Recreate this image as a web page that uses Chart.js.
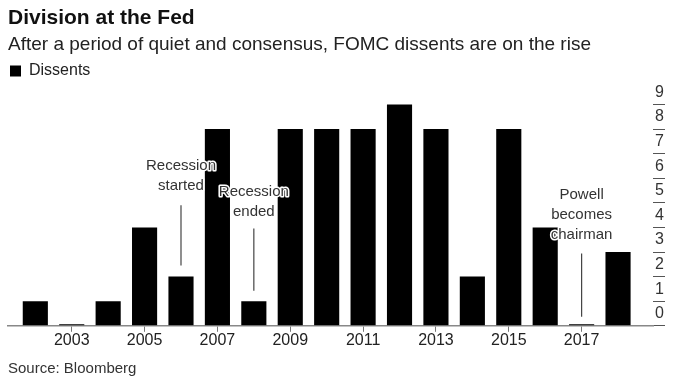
<!DOCTYPE html>
<html>
<head>
<meta charset="utf-8">
<script src="https://cdn.jsdelivr.net/npm/chart.js@4"></script>
<style>
  html, body { margin: 0; padding: 0; background: #fff; }
  #wrap { width: 680px; height: 384px; }
</style>
</head>
<body>
<div id="wrap"><canvas id="chart" width="680" height="384"></canvas></div>
<script>
// データ
const years = [2002, 2003, 2004, 2005, 2006, 2007, 2008, 2009, 2010, 2011, 2012, 2013, 2014, 2015, 2016, 2017, 2018];
const dissents = [1, 0, 1, 4, 2, 8, 1, 8, 8, 8, 9, 8, 2, 8, 4, 0, 3];
const xTickYears = [2003, 2005, 2007, 2009, 2011, 2013, 2015, 2017];
const yTickValues = [0, 1, 2, 3, 4, 5, 6, 7, 8, 9];

// 注釈 (年, テキスト, 文字の中心の値, 線の上端と下端の値)
const noteYears = [2006, 2008, 2017];
const noteTexts = [["Recession", "started"], ["Recession", "ended"], ["Powell", "becomes", "chairman"]];
const noteTextTop = [6.49, 5.43, 5.31];
const noteLineTop = [4.9, 3.96, 2.94];
const noteLineBottom = [2.45, 1.43, 0.37];

const FONT = "'Liberation Sans', Arial, sans-serif";

// 注釈を描くプラグイン
const notesPlugin = {
    id: 'notes',
    afterDatasetsDraw(chart) {
        const ctx = chart.ctx;
        const xs = chart.scales.x;
        const ys = chart.scales.y;
        ctx.save();
        for (let i = 0; i < noteYears.length; i++) {
            const x = xs.getPixelForValue(noteYears[i]);
            ctx.strokeStyle = '#444';
            ctx.lineWidth = 1.2;
            ctx.beginPath();
            ctx.moveTo(x, ys.getPixelForValue(noteLineTop[i]));
            ctx.lineTo(x, ys.getPixelForValue(noteLineBottom[i]));
            ctx.stroke();

            ctx.font = '15px ' + FONT;
            ctx.textAlign = 'center';
            ctx.textBaseline = 'middle';
            let y = ys.getPixelForValue(noteTextTop[i]);
            noteTexts[i].forEach(t => {
                ctx.lineWidth = 3;
                ctx.strokeStyle = '#fff';
                ctx.lineJoin = 'round';
                ctx.strokeText(t, x, y);
                ctx.fillStyle = '#333';
                ctx.fillText(t, x, y);
                y += 20;
            });
        }
        ctx.restore();
    }
};

new Chart(document.getElementById('chart'), {
    type: 'bar',
    data: {
        datasets: [{
            label: 'Dissents',
            data: years.map((yr, i) => ({ x: yr, y: dissents[i] })),
            backgroundColor: '#000',
            borderWidth: 0,
            barPercentage: 0.69,
            categoryPercentage: 1,
            minBarLength: 1.5
        }]
    },
    options: {
        responsive: false,
        animation: false,
        layout: { padding: { left: 8, right: 14, top: 2, bottom: 6 } },
        plugins: {
            title: {
                display: true,
                text: 'Division at the Fed',
                align: 'start',
                color: '#111',
                font: { family: FONT, size: 21, weight: 'bold' },
                padding: { top: 4, bottom: 2 }
            },
            subtitle: {
                display: true,
                text: 'After a period of quiet and consensus, FOMC dissents are on the rise',
                align: 'start',
                color: '#222',
                font: { family: FONT, size: 19 },
                padding: { top: 0, bottom: 5 }
            },
            legend: {
                display: true,
                align: 'start',
                labels: {
                    color: '#222',
                    font: { family: FONT, size: 16 },
                    boxWidth: 11,
                    boxHeight: 11,
                    padding: 2
                }
            },
            tooltip: { enabled: false }
        },
        scales: {
            x: {
                type: 'linear',
                min: 2001.25,
                max: 2018.96,
                offset: false,
                grid: { drawOnChartArea: false, drawTicks: true, tickLength: 6, color: '#777', offset: false },
                border: { display: true, color: '#888', width: 1.5 },
                afterBuildTicks: axis => { axis.ticks = xTickYears.map(v => ({ value: v })); },
                ticks: {
                    color: '#222',
                    font: { family: FONT, size: 16 },
                    padding: -1,
                    maxRotation: 0,
                    callback: v => String(v)
                },
                title: {
                    display: true,
                    text: 'Source: Bloomberg',
                    align: 'start',
                    color: '#333',
                    font: { family: FONT, size: 15 },
                    padding: { top: 11, bottom: 0 }
                }
            },
            y: {
                position: 'right',
                min: 0,
                max: 9.63,
                grid: { drawOnChartArea: false, drawTicks: true, tickLength: 12, color: '#555' },
                border: { display: false },
                afterBuildTicks: axis => { axis.ticks = yTickValues.map(v => ({ value: v })); },
                afterFit: axis => {
                    axis.width = 13;
                    axis.paddingTop = 0;
                    axis.paddingBottom = 0;
                },
                ticks: {
                    color: '#333',
                    font: { family: FONT, size: 16 },
                    padding: -10,
                    labelOffset: -12,
                    callback: v => String(v)
                }
            }
        }
    },
    plugins: [notesPlugin]
});
</script>
</body>
</html>
